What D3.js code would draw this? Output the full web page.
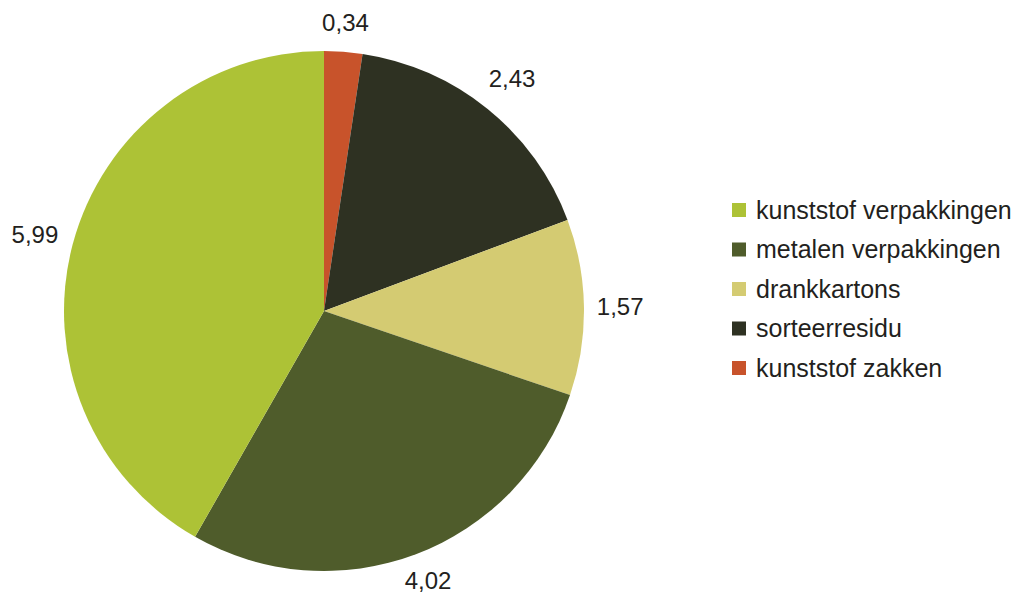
<!DOCTYPE html>
<html>
<head>
<meta charset="utf-8">
<script src="https://cdn.jsdelivr.net/npm/d3@7"></script>
<style>
  body { margin: 0; background: #fff; }
  svg text { font-family: "Liberation Sans", Arial, sans-serif; fill: #231f20; }
</style>
</head>
<body>
<svg width="1023" height="593"></svg>
<script>
// values (clockwise from 12 o'clock)
var categories = ["kunststof zakken", "sorteerresidu", "drankkartons", "metalen verpakkingen", "kunststof verpakkingen"];
var values = [0.34, 2.43, 1.57, 4.02, 5.99];
var labels = ["0,34", "2,43", "1,57", "4,02", "5,99"];
var colors = ["#c8532b", "#2e3122", "#d4cb72", "#4f5c2b", "#adc236"];
// legend order as shown
var legendOrder = ["kunststof verpakkingen", "metalen verpakkingen", "drankkartons", "sorteerresidu", "kunststof zakken"];

var svg = d3.select("svg");
var cx = 324, cy = 311, radius = 260;

var color = d3.scaleOrdinal().domain(categories).range(colors);

var pie = d3.pie().sort(null).value(function(d) { return d.value; });
var arc = d3.arc().innerRadius(0).outerRadius(radius);

var data = categories.map(function(c, i) { return {name: c, value: values[i], label: labels[i]}; });

var g = svg.append("g").attr("transform", "translate(" + cx + "," + cy + ")");

g.selectAll("path.slice")
  .data(pie(data))
  .enter()
  .append("path")
  .attr("class", "slice")
  .attr("d", arc)
  .attr("fill", function(d) { return color(d.data.name); });

// label box sits just outside the rim (like excel's outside-end labels)
function labelPos(d) {
  var a = (d.startAngle + d.endAngle) / 2;
  var s = Math.sin(a), c = -Math.cos(a);
  var r = radius + 12 + Math.abs(s) * 24 + Math.abs(c) * 15;
  var x = s * r, y = c * r;
  y = Math.min(y, 270); // plot area clips at the bottom
  return [x, y];
}

g.selectAll("text.val")
  .data(pie(data))
  .enter()
  .append("text")
  .attr("class", "val")
  .attr("transform", function(d) { return "translate(" + labelPos(d) + ")"; })
  .attr("text-anchor", "middle")
  .attr("dy", "0.35em")
  .style("font-size", "24px")
  .text(function(d) { return d.data.label; });

// legend
var legend = svg.append("g").attr("transform", "translate(732,210)");
var row = legend.selectAll("g.item")
  .data(legendOrder)
  .enter()
  .append("g")
  .attr("class", "item")
  .attr("transform", function(d, i) { return "translate(0," + (i * 39.5) + ")"; });

row.append("rect")
  .attr("x", 0)
  .attr("y", -7)
  .attr("width", 14)
  .attr("height", 14)
  .attr("fill", function(d) { return color(d); });

row.append("text")
  .attr("x", 24)
  .attr("dy", "0.35em")
  .style("font-size", "25px")
  .text(function(d) { return d; });
</script>
</body>
</html>
